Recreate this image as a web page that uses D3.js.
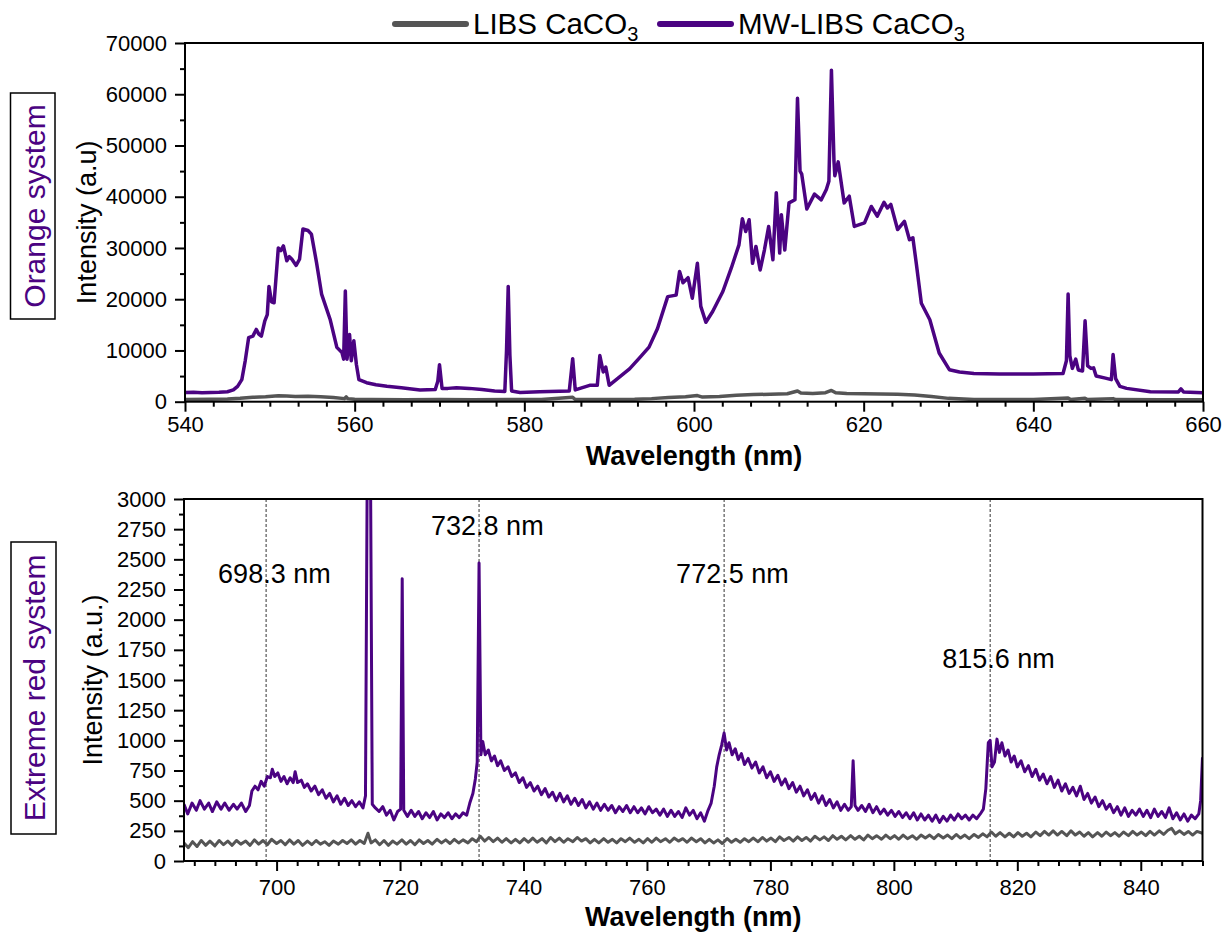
<!DOCTYPE html>
<html>
<head>
<meta charset="utf-8">
<script src="https://cdn.jsdelivr.net/npm/d3@7"></script>
<style>
  body { margin: 0; background: #fff; }
  text { font-family: "Liberation Sans", Arial, sans-serif; }
</style>
</head>
<body>
<script>
// ---- data ----
const seriesNames = ['LIBS CaCO', 'MW-LIBS CaCO'];
const seriesColors = ['#555555', '#4b0382'];

const topXTicks = [540, 560, 580, 600, 620, 640, 660];
const topYTicks = [0, 10000, 20000, 30000, 40000, 50000, 60000, 70000];
const botXTicks = [700, 720, 740, 760, 780, 800, 820, 840];
const botYTicks = [0, 250, 500, 750, 1000, 1250, 1500, 1750, 2000, 2250, 2500, 2750, 3000];

// orange system, MW-LIBS [nm, intensity]
const topMW = [[540,1800],[541,1850],[542,1750],[543,1800],[544,1850],[545,1950],[545.7,2300],[546.2,3000],[546.7,4300],[547.1,8000],[547.5,12500],[548,12800],[548.4,14100],[548.7,13200],[549,12800],[549.4,15700],[549.7,17000],[549.9,22500],[550.2,19500],[550.5,19300],[551,30000],[551.3,29500],[551.6,30400],[552,27500],[552.3,28300],[552.6,27800],[553.1,26600],[553.5,27800],[553.9,33700],[554.5,33400],[554.9,32700],[555.5,27200],[556.1,21000],[557.1,16100],[557.9,10600],[558.5,9600],[558.7,8300],[558.9,21600],[559.1,8300],[559.4,13100],[559.6,8000],[559.9,11900],[560.2,7300],[560.5,4300],[561.4,3700],[562.5,3300],[563.8,3000],[565.5,2700],[567.7,2300],[569.5,2400],[569.8,4000],[570,7200],[570.3,2600],[571,2600],[572,2700],[573.5,2600],[575,2400],[576.5,2100],[577.7,2000],[577.9,10000],[578.1,22500],[578.3,9000],[578.5,2100],[579.5,1800],[581.8,1950],[585.3,2100],[585.7,8400],[586,2300],[587.7,3200],[588.6,3200],[588.9,9000],[589.3,5800],[589.6,6750],[590,3200],[591.2,4800],[592.4,6400],[593.5,8400],[594.7,10650],[595.7,14300],[596.9,20500],[597.9,20800],[598.3,25400],[598.7,23200],[599.3,24200],[599.8,20200],[600.4,27000],[600.8,18600],[601.4,15500],[602.2,17600],[603.4,21500],[604.4,26100],[605.3,30600],[605.7,35700],[606.1,33200],[606.5,35500],[606.9,27000],[607.3,30300],[607.8,25700],[608.3,29600],[608.8,34200],[609.3,27700],[609.7,40800],[610.1,29000],[610.3,36500],[610.7,29600],[611.2,38800],[611.9,39400],[612.2,59200],[612.5,45000],[612.7,44400],[613.3,37600],[614.2,40500],[615,39400],[615.6,41400],[615.9,43000],[616.2,64700],[616.5,47000],[616.6,44100],[617,46800],[617.7,38800],[618.3,40100],[618.9,34200],[620.1,34900],[620.9,38100],[621.6,36200],[622.4,38900],[622.8,37800],[623.2,38500],[624,33600],[624.8,35200],[625.4,31600],[625.8,32000],[626.2,27000],[626.8,19200],[627.8,16000],[628.9,9500],[630.1,6250],[631.3,5800],[633,5500],[636,5400],[640,5400],[643.5,5500],[643.9,8000],[644.1,21000],[644.3,9000],[644.6,6500],[645,8300],[645.3,6200],[645.8,6000],[646.1,15800],[646.4,7000],[646.8,6500],[647.1,6600],[647.4,5000],[648.5,4600],[649.2,4300],[649.4,9200],[649.7,4500],[650.2,3000],[651,2600],[653.8,1950],[657.1,1900],[657.4,2500],[657.7,1900],[660,1750]];

// orange system, LIBS
const topLIBS = [[540,450],[543,480],[545,520],[546.5,650],[548,850],[549.5,950],[551,1150],[552,1100],[553,1000],[554.5,1050],[556,950],[557.5,800],[558.8,600],[559,950],[559.2,600],[560,500],[562,420],[566,400],[570,420],[574,400],[578,430],[582,420],[585.7,850],[586,430],[590,430],[593,480],[595,600],[597,800],[599,950],[600.4,1200],[601,900],[603,1000],[605,1250],[607,1400],[609,1450],[611,1550],[612.2,2100],[612.6,1700],[614,1600],[615.5,1750],[616.2,2200],[616.7,1750],[618,1600],[620,1550],[622,1500],[624,1450],[626,1300],[628,1000],[630,650],[633,450],[640,420],[644.1,700],[644.4,420],[646.1,650],[646.4,420],[649.4,600],[649.7,420],[655,400],[660,380]];

// extreme red system, MW-LIBS
const botMW = [[685,470],[685.6,390],[686.3,480],[687,420],[687.6,500],[688.3,430],[689,480],[689.6,410],[690.3,490],[691,430],[691.6,480],[692.3,420],[693,470],[693.6,430],[694.3,480],[695,410],[695.6,460],[696,580],[696.5,620],[697,590],[697.5,660],[698,620],[698.5,700],[699,690],[699.3,760],[699.7,700],[700.2,730],[700.7,660],[701.2,700],[701.7,640],[702.2,690],[702.7,650],[703,740],[703.4,650],[704,670],[704.5,610],[705,640],[705.6,580],[706.2,620],[706.8,550],[707.4,590],[708,520],[708.6,560],[709.2,490],[709.8,540],[710.4,470],[711,520],[711.6,460],[712.2,500],[712.8,450],[713.4,490],[714,440],[714.4,540],[714.7,3400],[715.2,3400],[715.5,470],[716,440],[716.6,410],[717.2,450],[717.8,380],[718.4,420],[719,340],[719.6,410],[720.1,430],[720.35,2340],[720.6,420],[721.2,370],[721.8,420],[722.4,370],[723,410],[723.6,350],[724.2,400],[724.8,360],[725.4,410],[726,340],[726.6,390],[727.2,360],[727.8,400],[728.4,350],[729,390],[729.6,360],[730.2,400],[730.8,380],[731.3,480],[731.8,560],[732.2,680],[732.5,820],[732.8,2470],[733.1,880],[733.4,990],[733.8,880],[734.3,920],[734.8,830],[735.3,870],[735.8,790],[736.3,830],[736.9,750],[737.5,780],[738.1,700],[738.7,730],[739.3,650],[739.9,690],[740.5,610],[741.1,650],[741.7,580],[742.3,620],[742.9,550],[743.5,600],[744.1,530],[744.7,570],[745.3,500],[745.9,560],[746.5,490],[747.1,540],[747.7,470],[748.3,520],[748.9,460],[749.5,510],[750.1,440],[750.7,490],[751.3,430],[751.9,480],[752.5,420],[753.1,470],[753.7,420],[754.3,460],[754.9,400],[755.5,450],[756.1,410],[756.7,460],[757.3,400],[757.9,450],[758.5,400],[759.1,440],[759.7,390],[760.3,450],[760.9,400],[761.5,430],[762.1,380],[762.7,430],[763.3,370],[763.9,420],[764.5,370],[765.1,410],[765.7,360],[766.3,440],[766.9,380],[767.5,420],[768.1,350],[768.7,400],[769.3,330],[769.9,420],[770.4,480],[770.9,620],[771.3,780],[771.7,880],[772.1,960],[772.5,1060],[772.9,920],[773.3,980],[773.8,880],[774.3,930],[774.8,840],[775.3,890],[775.8,800],[776.4,850],[777,770],[777.6,820],[778.2,730],[778.8,780],[779.4,690],[780,740],[780.6,660],[781.2,710],[781.8,630],[782.4,680],[783,600],[783.6,650],[784.2,570],[784.8,620],[785.4,540],[786,590],[786.6,510],[787.2,560],[787.8,480],[788.4,540],[789,460],[789.6,510],[790.2,440],[790.8,490],[791.4,420],[792,470],[792.6,420],[793.1,450],[793.4,830],[793.7,460],[794.2,420],[794.8,460],[795.4,410],[796,470],[796.6,400],[797.2,450],[797.8,390],[798.4,430],[799,380],[799.6,420],[800.2,370],[800.8,410],[801.4,360],[802,400],[802.6,350],[803.2,400],[803.8,340],[804.4,390],[805,340],[805.6,380],[806.2,330],[806.8,380],[807.4,320],[808,370],[808.6,330],[809.2,380],[809.8,340],[810.4,390],[811,350],[811.6,380],[812.2,340],[812.8,380],[813.4,350],[814,390],[814.5,430],[814.9,600],[815.3,980],[815.6,1000],[815.9,780],[816.3,820],[816.7,1010],[817.1,900],[817.5,980],[818,870],[818.5,920],[819,820],[819.5,870],[820,780],[820.6,830],[821.2,740],[821.8,790],[822.4,700],[823,760],[823.6,670],[824.2,720],[824.8,640],[825.4,700],[826,610],[826.6,670],[827.2,580],[827.8,640],[828.4,560],[829,610],[829.6,540],[830.2,620],[830.8,510],[831.4,560],[832,480],[832.6,530],[833.2,450],[833.8,500],[834.4,430],[835,470],[835.6,400],[836.2,450],[836.8,380],[837.4,440],[838,370],[838.6,420],[839.2,380],[839.8,430],[840.4,370],[841,420],[841.6,360],[842.2,430],[842.8,370],[843.4,410],[844,360],[844.6,440],[845.2,350],[845.8,400],[846.4,340],[847,390],[847.6,330],[848.2,380],[848.8,350],[849.4,390],[849.7,500],[850,860]];

// extreme red system, LIBS
const botLIBS = [[685,150],[685.7,110],[686.4,160],[687.1,120],[687.8,170],[688.5,130],[689.2,165],[690,125],[690.7,170],[691.4,135],[692.1,165],[692.8,130],[693.5,170],[694.2,140],[695,165],[695.7,130],[696.4,175],[697.1,140],[697.8,170],[698.5,135],[699.2,180],[700,145],[700.7,170],[701.4,135],[702.1,175],[702.8,140],[703.5,170],[704.2,130],[705,165],[705.7,135],[706.4,170],[707.1,140],[707.8,160],[708.5,130],[709.2,165],[710,140],[710.7,170],[711.4,145],[712.1,175],[712.8,140],[713.5,170],[714.2,145],[714.8,230],[715.3,150],[716,175],[716.7,135],[717.4,170],[718.1,130],[718.8,165],[719.5,140],[720.3,175],[721,140],[721.7,170],[722.4,135],[723.1,175],[723.8,145],[724.5,170],[725.2,140],[726,180],[726.7,150],[727.4,175],[728.1,145],[728.8,180],[729.5,150],[730.2,175],[731,150],[731.7,185],[732.4,160],[733,205],[733.7,165],[734.4,195],[735.1,160],[735.8,190],[736.5,155],[737.2,185],[738,150],[738.7,180],[739.4,150],[740.1,185],[740.8,155],[741.5,190],[742.2,155],[743,185],[743.7,150],[744.4,195],[745.1,160],[745.8,190],[746.5,155],[747.2,185],[748,160],[748.7,195],[749.4,165],[750.1,185],[750.8,150],[751.5,180],[752.2,150],[753,185],[753.7,155],[754.4,180],[755.1,150],[755.8,185],[756.5,160],[757.2,190],[758,155],[758.7,180],[759.4,150],[760.1,185],[760.8,155],[761.5,190],[762.2,160],[763,185],[763.7,155],[764.4,190],[765.1,165],[765.8,185],[766.5,155],[767.2,190],[768,160],[768.7,185],[769.4,150],[770.1,180],[770.8,150],[771.5,175],[772.2,145],[773,185],[773.7,155],[774.4,180],[775.1,155],[775.8,185],[776.5,160],[777.2,190],[778,160],[778.7,195],[779.4,165],[780.1,190],[780.8,160],[781.5,200],[782.2,170],[783,195],[783.7,165],[784.4,200],[785.1,170],[785.8,195],[786.5,165],[787.2,205],[788,175],[788.7,200],[789.4,170],[790.1,210],[790.8,180],[791.5,205],[792.2,175],[793,210],[793.7,180],[794.4,205],[795.1,175],[795.8,215],[796.5,185],[797.2,210],[798,180],[798.7,215],[799.4,185],[800.1,210],[800.8,180],[801.5,215],[802.2,185],[803,210],[803.7,180],[804.4,215],[805.1,190],[805.8,215],[806.5,185],[807.2,220],[808,190],[808.7,215],[809.4,185],[810.1,220],[810.8,190],[811.5,215],[812.2,185],[813,220],[813.7,195],[814.4,225],[815.1,200],[815.8,240],[816.5,205],[817.2,235],[818,200],[818.7,230],[819.4,200],[820.1,235],[820.8,205],[821.5,230],[822.2,200],[823,240],[823.7,210],[824.4,245],[825.1,215],[825.8,250],[826.5,215],[827.2,245],[828,210],[828.7,250],[829.4,215],[830.1,240],[830.8,205],[831.5,235],[832.2,200],[833,235],[833.7,205],[834.4,240],[835.1,210],[835.8,235],[836.5,205],[837.2,240],[838,210],[838.7,245],[839.4,215],[840.1,240],[840.8,210],[841.5,245],[842.2,215],[843,250],[843.7,220],[844.4,255],[845,270],[845.6,225],[846.3,250],[847,220],[847.7,245],[848.4,215],[849.1,245],[850,230]];

// marked band heads in the extreme red system
const markerNm = [698.3, 732.8, 772.5, 815.6];
const markerLabels = ['698.3 nm', '732.8 nm', '772.5 nm', '815.6 nm'];
const markerLabelY = [2300, 2700, 2300, 1600];

// ---- drawing ----
const svg = d3.select('body').append('svg')
  .attr('width', 1222).attr('height', 932)
  .style('background', '#fff');

const line = (x, y) => d3.line().x(d => x(d[0])).y(d => y(d[1]));

function minorTicks(domain, majorStep, n) {
  const step = majorStep / n;
  const start = Math.floor(domain[0] / majorStep) * majorStep;
  return d3.range(start, domain[1] + 1e-6, step)
    .filter(v => v >= domain[0] - 1e-6 && v <= domain[1] + 1e-6)
    .filter(v => Math.abs(v / majorStep - Math.round(v / majorStep)) > 1e-6);
}

function styleAxis(g) {
  g.select('.domain').remove();
  g.selectAll('line').attr('stroke', '#000').attr('stroke-width', 2);
  g.selectAll('text').attr('fill', '#000').style('font-size', '22px')
    .style('font-family', '"Liberation Sans", Arial, sans-serif');
}

function drawPanel(p) {
  const x = d3.scaleLinear().domain(p.xDomain).range([p.left, p.right]);
  const y = d3.scaleLinear().domain(p.yDomain).range([p.bottom, p.top]);
  const g = svg.append('g');

  g.append('clipPath').attr('id', p.id).append('rect')
    .attr('x', p.left).attr('y', p.top)
    .attr('width', p.right - p.left).attr('height', p.bottom - p.top);

  // ticks
  g.append('g').attr('transform', `translate(0,${p.bottom})`)
    .call(d3.axisBottom(x).tickValues(minorTicks(p.xDomain, 20, 6)).tickSize(5).tickFormat(''))
    .call(styleAxis);
  g.append('g').attr('transform', `translate(0,${p.bottom})`)
    .call(d3.axisBottom(x).tickValues(p.xTicks).tickSize(10).tickPadding(p.xPad).tickFormat(d3.format('d')))
    .call(styleAxis);
  g.append('g').attr('transform', `translate(${p.left},0)`)
    .call(d3.axisLeft(y).tickValues(minorTicks(p.yDomain, p.yStep, 2)).tickSize(5).tickFormat(''))
    .call(styleAxis);
  g.append('g').attr('transform', `translate(${p.left},0)`)
    .call(d3.axisLeft(y).tickValues(p.yTicks).tickSize(10).tickPadding(8).tickFormat(d3.format('d')))
    .call(styleAxis);

  // dashed markers
  if (p.markers) {
    g.selectAll('.marker').data(p.markers).enter().append('line')
      .attr('x1', d => x(d)).attr('x2', d => x(d))
      .attr('y1', p.top).attr('y2', p.bottom)
      .attr('stroke', '#333').attr('stroke-width', 1)
      .attr('stroke-dasharray', '3,2');
  }

  // spectra
  const plot = g.append('g').attr('clip-path', `url(#${p.id})`);
  p.series.forEach((s, i) => {
    plot.append('path')
      .attr('d', line(x, y)(s))
      .attr('fill', 'none')
      .attr('stroke', seriesColors[i])
      .attr('stroke-width', p.lineWidth)
      .attr('stroke-linejoin', 'round');
  });

  if (p.markers) {
    g.selectAll('.mlabel').data(p.markers).enter().append('text')
      .attr('x', d => x(d) - 48)
      .attr('y', (d, i) => y(markerLabelY[i]))
      .style('font-size', '27px')
      .text((d, i) => markerLabels[i]);
  }

  // frame
  g.append('rect')
    .attr('x', p.left).attr('y', p.top)
    .attr('width', p.right - p.left).attr('height', p.bottom - p.top)
    .attr('fill', 'none').attr('stroke', '#000').attr('stroke-width', 2);

  // axis titles
  g.append('text')
    .attr('x', (p.left + p.right) / 2).attr('y', p.xTitleY)
    .attr('text-anchor', 'middle')
    .style('font-size', '27px').style('font-weight', 'bold')
    .text('Wavelength (nm)');
  g.append('text')
    .attr('transform', `translate(${p.yTitleX},${(p.top + p.bottom) / 2}) rotate(-90)`)
    .attr('text-anchor', 'middle')
    .style('font-size', '27px')
    .text(p.yTitle);

  // side label box
  g.append('rect')
    .attr('x', p.box[0]).attr('y', p.box[1]).attr('width', p.box[2]).attr('height', p.box[3])
    .attr('fill', 'none').attr('stroke', '#000').attr('stroke-width', 1.5);
  g.append('text')
    .attr('transform', `translate(${p.box[0] + 34},${p.box[1] + p.box[3] / 2}) rotate(-90)`)
    .attr('text-anchor', 'middle')
    .attr('fill', seriesColors[1])
    .style('font-size', '30px')
    .text(p.boxLabel);
}

drawPanel({
  id: 'clipTop', left: 185, right: 1203, top: 43, bottom: 401.7,
  xDomain: [540, 660], yDomain: [0, 70000], yStep: 10000,
  xTicks: topXTicks, yTicks: topYTicks, xPad: 5,
  series: [topLIBS, topMW], lineWidth: 3.5,
  xTitleY: 465, yTitleX: 96, yTitle: 'Intensity (a.u)',
  box: [10.5, 93, 44.5, 226], boxLabel: 'Orange system'
});

drawPanel({
  id: 'clipBot', left: 184, right: 1202.5, top: 499, bottom: 861,
  xDomain: [685, 850], yDomain: [0, 3000], yStep: 250,
  xTicks: botXTicks, yTicks: botYTicks, xPad: 8,
  series: [botLIBS, botMW], lineWidth: 3,
  markers: markerNm,
  xTitleY: 926, yTitleX: 102, yTitle: 'Intensity (a.u.)',
  box: [11, 542, 45, 292], boxLabel: 'Extreme red system'
});

// legend
const legendX = [395, 660];
const legendTextX = [473, 738];
const legend = svg.append('g');
seriesNames.forEach((name, i) => {
  legend.append('line')
    .attr('x1', legendX[i]).attr('x2', legendX[i] + 71)
    .attr('y1', 24).attr('y2', 24)
    .attr('stroke', seriesColors[i]).attr('stroke-width', 6)
    .attr('stroke-linecap', 'round');
  const t = legend.append('text')
    .attr('x', legendTextX[i]).attr('y', 34)
    .style('font-size', '29.5px');
  t.append('tspan').text(name);
  t.append('tspan').attr('dy', 7).style('font-size', '20px').text('3');
});
</script>
</body>
</html>
